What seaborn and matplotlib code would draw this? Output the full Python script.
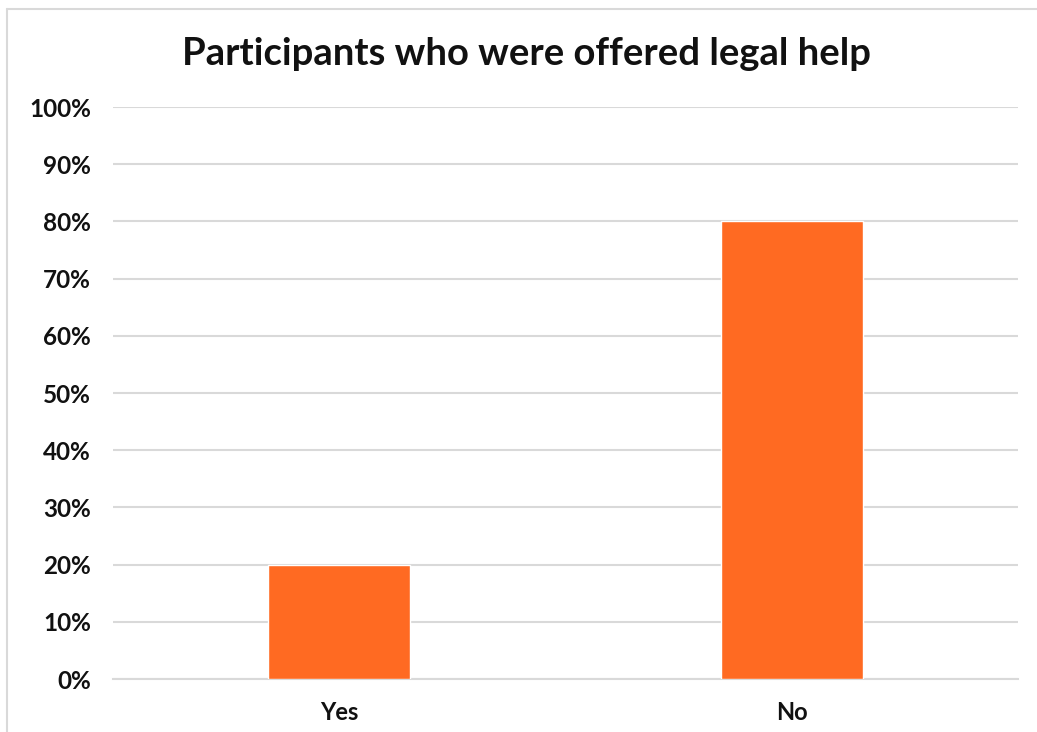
import matplotlib
matplotlib.use("Agg")
import matplotlib.pyplot as plt
import seaborn as sns
import pandas as pd
from matplotlib.lines import Line2D
from matplotlib.ticker import MultipleLocator, FuncFormatter

answers = ["Yes", "No"]
shares = [20, 80]
title = "Participants who were offered legal help"

sns.set_theme(style="white")
plt.rcParams["font.family"] = ["Lato", "DejaVu Sans"]

df = pd.DataFrame({"answer": answers, "share": shares})

fig = plt.figure(figsize=(10.37, 7.32), dpi=100)
ax = fig.add_axes([0.109, 0.0724, 0.8727, 0.7814])

sns.barplot(data=df, x="answer", y="share", color="#FF6A22", saturation=1,
            width=0.314, ax=ax, zorder=3)

ax.set_ylim(0, 100)
ax.yaxis.set_major_locator(MultipleLocator(10))
ax.yaxis.set_major_formatter(FuncFormatter(lambda v, _: f"{v:.0f}%"))
ax.grid(axis="y", color="#D9D9D9", linewidth=1.5, zorder=0)
ax.set_axisbelow(True)
for side in ["top", "right", "left"]:
    ax.spines[side].set_visible(False)
ax.spines["bottom"].set_color("#D9D9D9")
ax.spines["bottom"].set_linewidth(1.5)
ax.set_xlabel("")
ax.set_ylabel("")
ax.tick_params(axis="y", length=0, pad=16, labelsize=17.5)
ax.tick_params(axis="x", length=0, pad=16, labelsize=17)
for lbl in ax.get_xticklabels() + ax.get_yticklabels():
    lbl.set_fontweight("bold")
    lbl.set_color("#111111")

fig.text(0.508, 0.926, title, ha="center", va="center", fontsize=27.5,
         fontweight="bold", color="#111111")

# frame lines along the top and left of the chart area
frame = dict(transform=fig.transFigure, color="#D9D9D9", linewidth=1.5)
fig.lines.append(Line2D([7 / 1037, 1.0], [1 - 9 / 732] * 2, **frame))
fig.lines.append(Line2D([7 / 1037] * 2, [0.0, 1 - 9 / 732], **frame))

fig.savefig("out.png", dpi=100)
